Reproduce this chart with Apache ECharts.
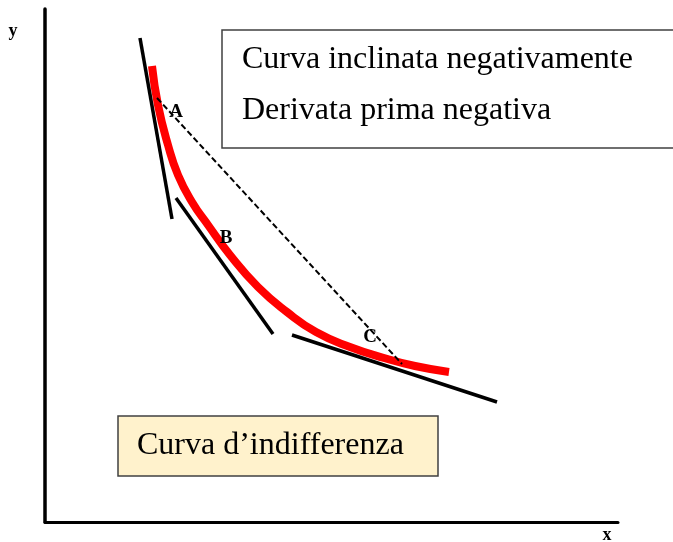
<!DOCTYPE html>
<html>
<head>
<meta charset="utf-8">
<script src="https://cdn.jsdelivr.net/npm/echarts@6/dist/echarts.min.js"></script>
<style>
  html, body { margin: 0; padding: 0; background: #fff; }
  #chart { width: 673px; height: 542px; }
</style>
</head>
<body>
<div id="chart"></div>
<script>
// curva d'indifferenza (unita' arbitrarie, assi 0-573 / 0-513)
let curveX = [107, 113, 123, 133, 147, 163, 185, 213, 242, 271, 305, 339, 370, 404];
let curveY = [456, 417, 377, 347, 320, 297, 267, 235, 210, 190, 175, 164, 156, 150];

// tangenti nei punti A, B, C
let tangentA = [[95, 484], [127, 303]];
let tangentB = [[131, 324], [228, 188]];
let tangentC = [[247, 187], [452, 120]];

// corda tratteggiata da A a C
let chordAC = [[112, 424], [357, 158]];

let pointNames = ['A', 'B', 'C'];
let pointX = [131, 181, 325];
let pointY = [410, 284, 185];

let xMax = 573;
let yMax = 513;

let chart = echarts.init(document.getElementById('chart'));

let serif = "'Liberation Serif', 'Times New Roman', serif";

let tangentStyle = { color: '#000', width: 3.5, cap: 'butt' };

let option = {
  animation: false,
  backgroundColor: '#fff',
  grid: {
    left: 45,
    right: 55,
    top: 9,
    bottom: 20,
    containLabel: false
  },
  xAxis: {
    type: 'value',
    min: 0,
    max: xMax,
    axisLine: { show: true, lineStyle: { color: '#000', width: 3 } },
    axisTick: { show: false },
    axisLabel: { show: false },
    splitLine: { show: false }
  },
  yAxis: {
    type: 'value',
    min: 0,
    max: yMax,
    axisLine: { show: true, lineStyle: { color: '#000', width: 3.5 } },
    axisTick: { show: false },
    axisLabel: { show: false },
    splitLine: { show: false }
  },
  series: [
    {
      name: 'curva',
      type: 'line',
      smooth: 0.5,
      showSymbol: false,
      lineStyle: { color: '#ff0000', width: 8, cap: 'butt' },
      data: curveX.map((x, i) => [x, curveY[i]]),
      z: 2
    },
    {
      type: 'line',
      showSymbol: false,
      lineStyle: tangentStyle,
      data: tangentA,
      z: 3
    },
    {
      type: 'line',
      showSymbol: false,
      lineStyle: tangentStyle,
      data: tangentB,
      z: 3
    },
    {
      type: 'line',
      showSymbol: false,
      lineStyle: tangentStyle,
      data: tangentC,
      z: 3
    },
    {
      type: 'line',
      showSymbol: false,
      lineStyle: { color: '#000', width: 2, type: [6, 3] },
      data: chordAC,
      z: 4
    },
    {
      type: 'scatter',
      symbolSize: 0,
      itemStyle: { opacity: 1 },
      data: pointNames.map((n, i) => ({ name: n, value: [pointX[i], pointY[i]] })),
      label: {
        show: true,
        position: 'inside',
        formatter: '{b}',
        color: '#000',
        textBorderWidth: 0,
        fontFamily: serif,
        fontWeight: 'bold',
        fontSize: 19
      },
      z: 5
    }
  ],
  graphic: [
    {
      type: 'rect',
      shape: { x: 222, y: 30, width: 470, height: 118 },
      style: { fill: '#fff', stroke: '#404040', lineWidth: 1.5 }
    },
    {
      type: 'text',
      x: 242,
      y: 60,
      style: {
        text: 'Curva inclinata negativamente',
        font: '32px ' + serif,
        fill: '#000',
        verticalAlign: 'middle'
      }
    },
    {
      type: 'text',
      x: 242,
      y: 111,
      style: {
        text: 'Derivata prima negativa',
        font: '32px ' + serif,
        fill: '#000',
        verticalAlign: 'middle'
      }
    },
    {
      type: 'rect',
      shape: { x: 118, y: 416, width: 320, height: 60 },
      style: { fill: '#fff2cc', stroke: '#404040', lineWidth: 1.5 }
    },
    {
      type: 'text',
      x: 137,
      y: 446,
      style: {
        text: 'Curva d\u2019indifferenza',
        font: '32px ' + serif,
        fill: '#000',
        verticalAlign: 'middle'
      }
    },
    {
      type: 'text',
      x: 13,
      y: 31,
      style: {
        text: 'y',
        font: 'bold 18px ' + serif,
        fill: '#000',
        align: 'center',
        verticalAlign: 'middle'
      }
    },
    {
      type: 'text',
      x: 607,
      y: 535,
      style: {
        text: 'x',
        font: 'bold 18px ' + serif,
        fill: '#000',
        align: 'center',
        verticalAlign: 'middle'
      }
    }
  ]
};

chart.setOption(option);
</script>
</body>
</html>
